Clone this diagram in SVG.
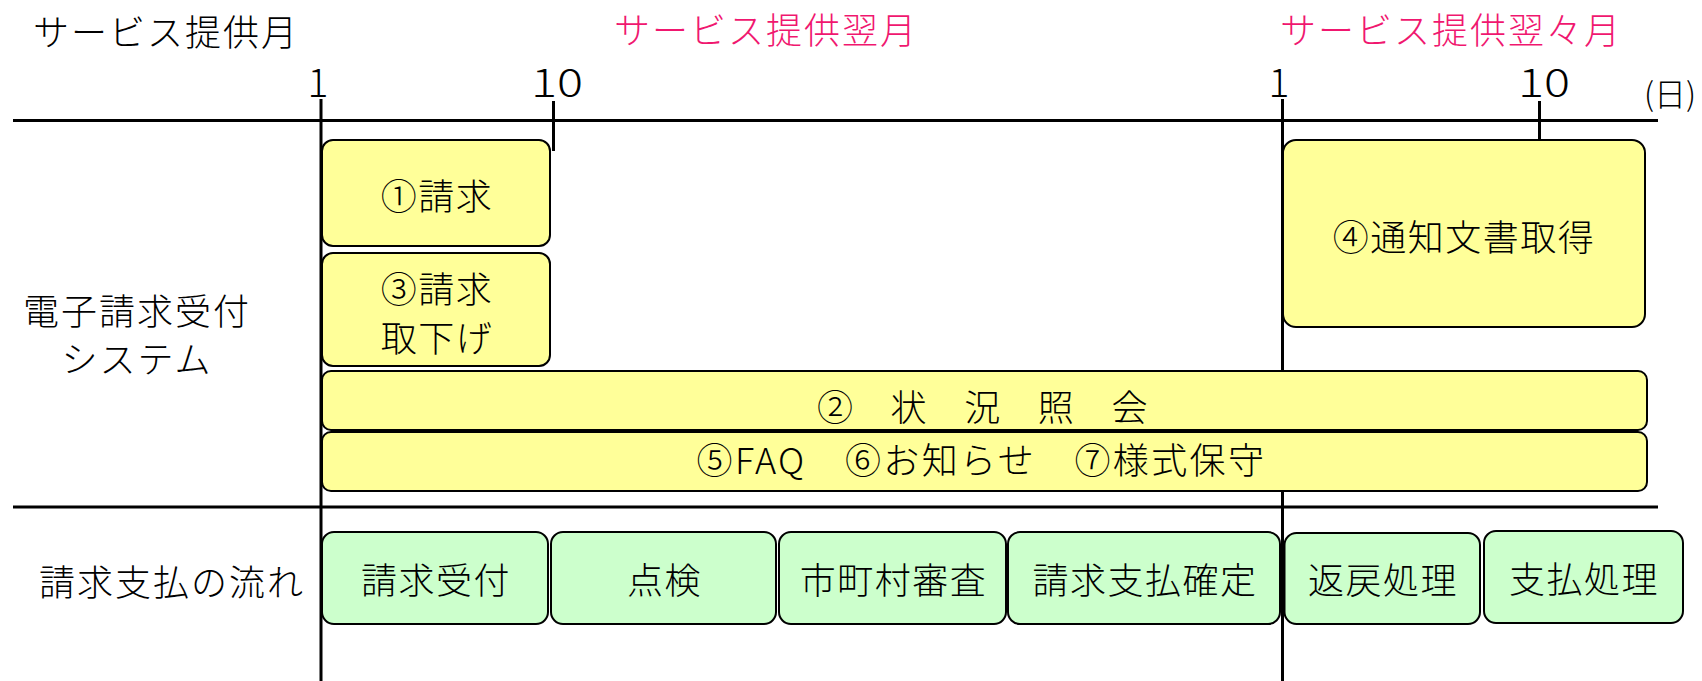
<svg xmlns="http://www.w3.org/2000/svg" width="1702" height="681" viewBox="0 0 1702 681">
<style>
.ln{stroke:#000;stroke-width:3;fill:none}
.by{fill:#FFFF99;stroke:#000;stroke-width:2}
.bg{fill:#CCFFCC;stroke:#000;stroke-width:2}
.t{font-family:'Noto Sans CJK JP','Noto Sans CJK SC',sans-serif;font-size:36px;font-weight:300;fill:#000;letter-spacing:1.5px}
.c{text-anchor:middle}
.pk{fill:#F0176F}
.d{font-size:39px;letter-spacing:0}
</style>
<rect width="1702" height="681" fill="#fff"/>
<g id="headers">
<text class="t" x="33" y="46" style="letter-spacing:2px">サービス提供月</text>
<text class="t pk" x="614" y="44" style="letter-spacing:2px">サービス提供翌月</text>
<text class="t pk" x="1280" y="44" style="letter-spacing:2px">サービス提供翌々月</text>
<text class="t c d" x="318" y="97">1</text>
<text class="t c d" x="557" y="97" textLength="52" lengthAdjust="spacingAndGlyphs">10</text>
<text class="t c d" x="1279" y="97">1</text>
<text class="t c d" x="1544" y="97" textLength="52" lengthAdjust="spacingAndGlyphs">10</text>
<text class="t c" x="1670" y="106" style="font-size:32px;letter-spacing:0">(日)</text>
</g>
<g id="connectors">
<line class="ln" x1="13" y1="120.5" x2="1658" y2="120.5"/>
<line class="ln" x1="13" y1="507" x2="1658" y2="507"/>
<line class="ln" x1="321" y1="99" x2="321" y2="681"/>
<line class="ln" x1="1282.5" y1="99" x2="1282.5" y2="681"/>
<line class="ln" x1="553.5" y1="101" x2="553.5" y2="151"/>
<line class="ln" x1="1539.5" y1="101" x2="1539.5" y2="150"/>
</g>
<g id="labels">
<text class="t c" x="137" y="325" style="letter-spacing:2px">電子請求受付</text>
<text class="t c" x="137" y="373" style="letter-spacing:2px">システム</text>
<text class="t c" x="172" y="596" style="letter-spacing:2px">請求支払の流れ</text>
</g>
<g id="n1"><rect class="by" x="322" y="140" width="228" height="106" rx="11"/><text class="t c" x="437" y="210">①請求</text></g>
<g id="n3"><rect class="by" x="322" y="253" width="228" height="113" rx="11"/><text class="t c" x="437" y="303">③請求</text><text class="t c" x="437" y="352">取下げ</text></g>
<g id="n4"><rect class="by" x="1283" y="140" width="362" height="187" rx="13"/><text class="t c" x="1464" y="251">④通知文書取得</text></g>
<g id="n2"><rect class="by" x="322" y="371" width="1325" height="59" rx="9"/><text class="t c" x="983" y="421" textLength="332" lengthAdjust="spacing">②　状　況　照　会</text></g>
<g id="n5"><rect class="by" x="322" y="432" width="1325" height="59" rx="9"/><text class="t c" x="981" y="474" textLength="569" lengthAdjust="spacing">⑤FAQ　⑥お知らせ　⑦様式保守</text></g>
<g id="f1"><rect class="bg" x="322" y="532" width="226" height="92" rx="12"/><text class="t c" x="436" y="594">請求受付</text></g>
<g id="f2"><rect class="bg" x="551" y="532" width="225" height="92" rx="12"/><text class="t c" x="664.5" y="594">点検</text></g>
<g id="f3"><rect class="bg" x="779" y="532" width="227" height="92" rx="12"/><text class="t c" x="893.5" y="594">市町村審査</text></g>
<g id="f4"><rect class="bg" x="1008" y="532" width="272" height="92" rx="12"/><text class="t c" x="1145" y="594">請求支払確定</text></g>
<g id="f5"><rect class="bg" x="1284.5" y="533" width="195.5" height="91" rx="12"/><text class="t c" x="1383" y="594">返戻処理</text></g>
<g id="f6"><rect class="bg" x="1484" y="531" width="199" height="92" rx="12"/><text class="t c" x="1584" y="593">支払処理</text></g>
</svg>
